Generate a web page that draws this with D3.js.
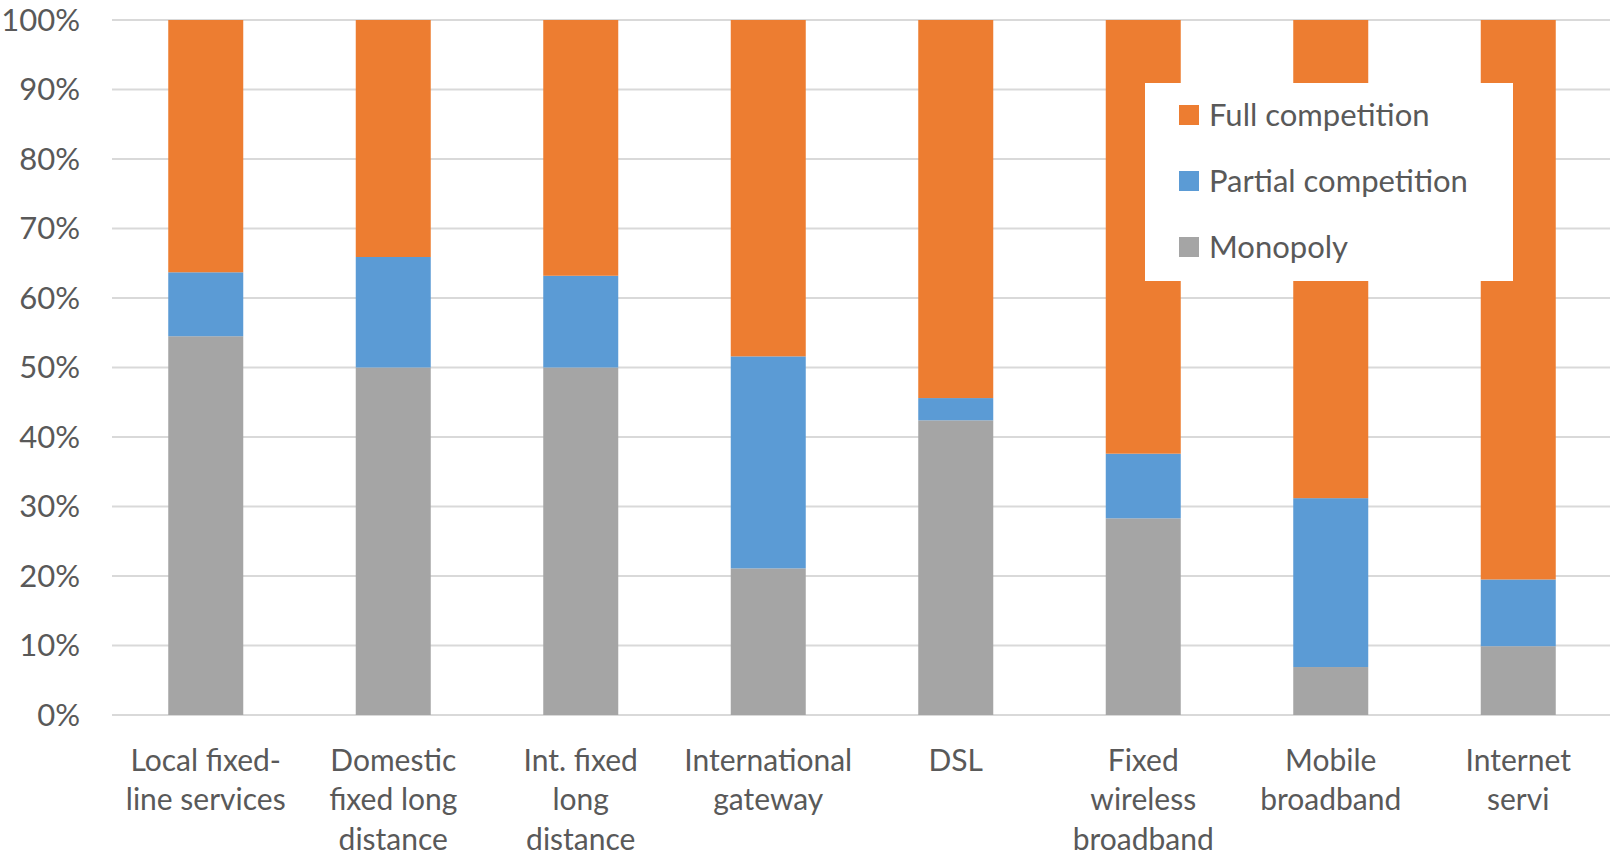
<html>
  <head>
    <meta charset="utf-8">
    <style>
      body { margin: 0; background: #fff; }
      text { font-family: Lato, "Open Sans", sans-serif; fill: #595959; }
      .grid line { stroke: #d9d9d9; stroke-width: 2px; }
    </style>
  </head>
<body>
  <svg width="1610" height="862"></svg>
  <script src="https://d3js.org/d3.v7.min.js"></script>
  <script>
    var categories = ["Local fixed-line services", "Domestic fixed long distance", "Int. fixed long distance",
      "International gateway", "DSL", "Fixed wireless broadband", "Mobile broadband", "Internet servi"];
    var labelLines = [
      ["Local fixed-", "line services"],
      ["Domestic", "fixed long", "distance"],
      ["Int. fixed", "long", "distance"],
      ["International", "gateway"],
      ["DSL"],
      ["Fixed", "wireless", "broadband"],
      ["Mobile", "broadband"],
      ["Internet", "servi"]
    ];
    // shares in %
    var monopoly = [54.5, 50.0, 50.0, 21.1, 42.4, 28.3, 6.9, 9.9];
    var partial  = [9.2, 15.9, 13.2, 30.5, 3.2, 9.3, 24.3, 9.6];
    var full     = [36.3, 34.1, 36.8, 48.4, 54.4, 62.4, 68.8, 80.5];
    var seriesNames = ["Monopoly", "Partial competition", "Full competition"];
    var colors = ["#a5a5a5", "#5b9bd5", "#ed7d31"];
    var yTicks = [0, 10, 20, 30, 40, 50, 60, 70, 80, 90, 100];

    var svg = d3.select("svg");

    var x = d3.scaleBand()
      .domain(categories)
      .range([112, 1612])
      .paddingInner(0.6)
      .paddingOuter(0.3);

    var y = d3.scaleLinear()
      .domain([0, 100])
      .range([715, 20]);

    // gridlines
    svg.append("g")
        .attr("class", "grid")
      .selectAll("line")
      .data(yTicks)
      .enter().append("line")
        .attr("x1", 112)
        .attr("x2", 1610)
        .attr("y1", function(d) { return y(d); })
        .attr("y2", function(d) { return y(d); });

    // y axis labels
    svg.append("g")
      .selectAll("text")
      .data(yTicks)
      .enter().append("text")
        .attr("x", 80)
        .attr("y", function(d) { return y(d); })
        .attr("dy", "0.35em")
        .attr("text-anchor", "end")
        .style("font-size", "31px")
        .text(function(d) { return d + "%"; });

    var table = categories.map(function(c, i) {
      return { cat: c, Monopoly: monopoly[i], "Partial competition": partial[i], "Full competition": full[i] };
    });
    var stacked = d3.stack().keys(seriesNames)(table);

    svg.append("g")
      .selectAll("g")
      .data(stacked)
      .enter().append("g")
        .attr("fill", function(d, i) { return colors[i]; })
      .selectAll("rect")
      .data(function(d) { return d; })
      .enter().append("rect")
        .attr("x", function(d) { return x(d.data.cat); })
        .attr("width", x.bandwidth())
        .attr("y", function(d) { return y(d[1]); })
        .attr("height", function(d) { return y(d[0]) - y(d[1]); });

    // category labels
    var lab = svg.append("g")
      .selectAll("text")
      .data(categories)
      .enter().append("text")
        .attr("text-anchor", "middle")
        .style("font-size", "30px")
        .attr("x", function(d) { return x(d) + x.bandwidth() / 2; })
        .attr("y", 760);
    lab.selectAll("tspan")
      .data(function(d, i) { return labelLines[i]; })
      .enter().append("tspan")
        .attr("x", function() { return d3.select(this.parentNode).attr("x"); })
        .attr("dy", function(d, i) { return i === 0 ? "0.35em" : "1.33em"; })
        .text(function(d) { return d; });

    // legend
    var legend = svg.append("g");
    legend.append("rect")
      .attr("x", 1145)
      .attr("y", 83)
      .attr("width", 368)
      .attr("height", 198)
      .attr("fill", "#fff");
    var legendOrder = [2, 1, 0];
    var item = legend.selectAll("g")
      .data(legendOrder)
      .enter().append("g")
        .attr("transform", function(d, i) { return "translate(1179," + (115 + i * 66) + ")"; });
    item.append("rect")
      .attr("x", 0)
      .attr("y", -10)
      .attr("width", 20)
      .attr("height", 20)
      .attr("fill", function(d) { return colors[d]; });
    item.append("text")
      .attr("x", 30)
      .attr("dy", "0.35em")
      .style("font-size", "31px")
      .text(function(d) { return seriesNames[d]; });
  </script>
  </body>
</html>
